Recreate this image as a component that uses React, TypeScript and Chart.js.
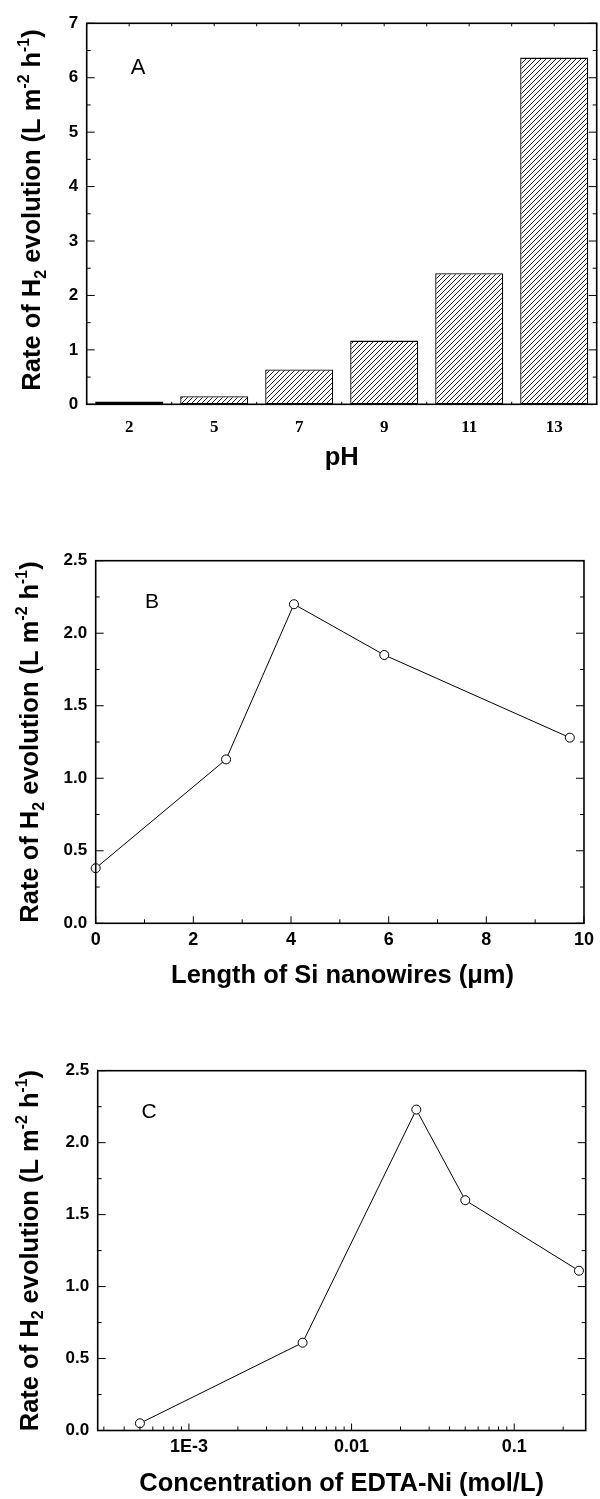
import React, { useEffect, useRef } from 'react';
import { Chart, registerables } from 'chart.js';

Chart.register(...registerables);

// ---------- data ----------
const phCategories = ['2', '5', '7', '9', '11', '13'];
const phRates = [0.05, 0.15, 0.64, 1.17, 2.41, 6.37];

const nanowireLength = [0, 2.67, 4.06, 5.91, 9.71];
const nanowireRates = [0.38, 1.13, 2.2, 1.85, 1.28];

const edtaConcentration = [0.0005, 0.005, 0.025, 0.05, 0.25];
const edtaRates = [0.05, 0.61, 2.23, 1.6, 1.11];
const edtaTickValues = [0.001, 0.01, 0.1];
const edtaTickLabels = ['1E-3', '0.01', '0.1'];

const yTitleParts = [
  { t: 'Rate of H' },
  { t: '2', sub: true },
  { t: ' evolution (L m' },
  { t: '-2', sup: true },
  { t: ' h' },
  { t: '-1', sup: true },
  { t: ')' },
];

const SANS = '"Liberation Sans", Arial, sans-serif';
const SERIF = '"Liberation Serif", "Times New Roman", serif';

type Part = { t: string; sub?: boolean; sup?: boolean };

function drawRich(ctx: CanvasRenderingContext2D, parts: Part[], size: number, cx: number, cy: number, rotate: boolean, weight = 'bold') {
  ctx.save();
  ctx.translate(cx, cy);
  if (rotate) ctx.rotate(-Math.PI / 2);
  const small = size * 0.62;
  const font = (s: number) => `${weight} ${s}px ${SANS}`;
  let total = 0;
  for (const p of parts) {
    ctx.font = font(p.sub || p.sup ? small : size);
    total += ctx.measureText(p.t).width;
  }
  let x = -total / 2;
  ctx.textBaseline = 'alphabetic';
  ctx.textAlign = 'left';
  ctx.fillStyle = '#000';
  for (const p of parts) {
    const s = p.sub || p.sup ? small : size;
    ctx.font = font(s);
    const dy = p.sub ? size * 0.22 : p.sup ? -size * 0.42 : 0;
    ctx.fillText(p.t, x, dy);
    x += ctx.measureText(p.t).width;
  }
  ctx.restore();
}

type TickMark = { v: number; len: number };

const framePlugin = {
  id: 'frame',
  afterDatasetsDraw(chart: any, _args: any, opts: any) {
    const { ctx, chartArea: a, scales } = chart;
    const xs = scales.x;
    const ys = scales.y;
    ctx.save();
    ctx.strokeStyle = '#000';
    ctx.lineWidth = 1;
    ctx.beginPath();
    const xt: TickMark[] = opts.xTicks || [];
    const xtTop: TickMark[] = opts.xTicksTop || [];
    const yt: TickMark[] = opts.yTicks || [];
    const ySides: string[] = opts.ySides || [];
    for (const t of xt) {
      const px = xs.getPixelForValue(t.v);
      if (px < a.left - 0.5 || px > a.right + 0.5) continue;
      ctx.moveTo(px, a.bottom);
      ctx.lineTo(px, a.bottom - t.len);
    }
    for (const t of xtTop) {
      const px = xs.getPixelForValue(t.v);
      if (px < a.left - 0.5 || px > a.right + 0.5) continue;
      ctx.moveTo(px, a.top);
      ctx.lineTo(px, a.top + t.len);
    }
    for (const t of yt) {
      const py = ys.getPixelForValue(t.v);
      if (py < a.top - 0.5 || py > a.bottom + 0.5) continue;
      if (ySides.includes('left')) { ctx.moveTo(a.left, py); ctx.lineTo(a.left + t.len, py); }
      if (ySides.includes('right')) { ctx.moveTo(a.right, py); ctx.lineTo(a.right - t.len, py); }
    }
    ctx.stroke();
    ctx.lineWidth = 1.6;
    ctx.strokeRect(a.left, a.top, a.right - a.left, a.bottom - a.top);
    ctx.restore();

    // texts
    drawRich(ctx, yTitleParts, opts.titleSize, opts.yTitleX, opts.yTitleY, true);
    drawRich(ctx, [{ t: opts.xTitle }], opts.titleSize, opts.xTitleX, opts.xTitleY, false);
    ctx.save();
    ctx.font = `normal ${opts.letterSize}px ${SANS}`;
    ctx.fillStyle = '#000';
    ctx.textAlign = 'center';
    ctx.textBaseline = 'alphabetic';
    ctx.fillText(opts.letter, opts.letterX, opts.letterY);
    ctx.restore();
  },
};

function hatchPattern(): CanvasPattern | string {
  const c = document.createElement('canvas');
  c.width = 5;
  c.height = 5;
  const g = c.getContext('2d');
  if (!g) return '#fff';
  g.fillStyle = '#fff';
  g.fillRect(0, 0, 5, 5);
  g.strokeStyle = '#222';
  g.lineWidth = 1;
  g.beginPath();
  g.moveTo(-1, 6);
  g.lineTo(6, -1);
  g.moveTo(-1, 1);
  g.lineTo(1, -1);
  g.moveTo(4, 6);
  g.lineTo(6, 4);
  g.stroke();
  return g.createPattern(c, 'repeat') || '#fff';
}

function linearTicks(min: number, max: number, major: number, minor: number, majorLen: number, minorLen: number): TickMark[] {
  const out: TickMark[] = [];
  const n = Math.round((max - min) / minor);
  for (let i = 0; i <= n; i++) {
    const v = min + i * minor;
    const isMajor = Math.abs(v / major - Math.round(v / major)) < 1e-6;
    out.push({ v, len: isMajor ? majorLen : minorLen });
  }
  return out;
}

function logTicks(min: number, max: number, majorLen: number, minorLen: number): TickMark[] {
  const out: TickMark[] = [];
  for (let e = Math.floor(Math.log10(min)); e <= Math.ceil(Math.log10(max)); e++) {
    for (let m = 1; m <= 9; m++) {
      const v = m * Math.pow(10, e);
      if (v >= min * 0.999 && v <= max * 1.001) out.push({ v, len: m === 1 ? majorLen : minorLen });
    }
  }
  return out;
}

const yTickFont = { family: SANS, size: 17, weight: 'bold' as const };
const xTickFont = { family: SANS, size: 18, weight: 'bold' as const };

const hideAxis = { grid: { display: false, drawTicks: false }, border: { display: false } };

function fixWidth(w: number) {
  return (s: any) => { s.width = w; };
}
function fixHeight(h: number) {
  return (s: any) => { s.height = h; };
}

function configA(): any {
  return {
    type: 'bar',
    data: {
      labels: phCategories,
      datasets: [
        {
          data: phRates,
          backgroundColor: hatchPattern(),
          borderColor: '#000',
          borderWidth: 1.3,
          borderSkipped: false,
          barPercentage: 0.8,
          categoryPercentage: 1,
        },
      ],
    },
    options: {
      responsive: false,
      animation: false,
      devicePixelRatio: 1,
      layout: { padding: { left: 0, top: 23.3, right: 3.3, bottom: 0 } },
      scales: {
        x: {
          ...hideAxis,
          offset: true,
          ticks: { font: { family: SERIF, size: 17, weight: 'bold' }, color: '#000', padding: 13, maxRotation: 0 },
          afterFit: fixHeight(85.7),
        },
        y: {
          ...hideAxis,
          min: 0,
          max: 7,
          ticks: { stepSize: 1, font: yTickFont, color: '#000', padding: 8.5 },
          afterFit: fixWidth(86.7),
        },
      },
      plugins: {
        legend: { display: false },
        tooltip: { enabled: false },
        frame: {
          xTicks: linearTicks(-0.5, 5.5, 1, 1, 2.5, 2.5),
          xTicksTop: linearTicks(-0.5, 5.5, 0.5, 0.5, 3, 3),
          yTicks: linearTicks(0, 7, 1, 0.5, 8, 4),
          ySides: ['left', 'right'],
          titleSize: 25.5,
          yTitleX: 40,
          yTitleY: 210,
          xTitle: 'pH',
          xTitleX: 341.7,
          xTitleY: 465,
          letter: 'A',
          letterSize: 22,
          letterX: 138,
          letterY: 74,
        },
      },
    },
    plugins: [framePlugin],
  };
}

const lineStyle = {
  borderColor: '#000',
  borderWidth: 1,
  pointRadius: 4.5,
  pointBackgroundColor: '#fff',
  pointBorderColor: '#000',
  pointBorderWidth: 1,
  fill: false,
  tension: 0,
  clip: false,
};

function configB(): any {
  return {
    type: 'line',
    data: {
      datasets: [
        {
          ...lineStyle,
          data: nanowireLength.map((x, i) => ({ x, y: nanowireRates[i] })),
        },
      ],
    },
    options: {
      responsive: false,
      animation: false,
      devicePixelRatio: 1,
      layout: { padding: { left: 0, top: 70.7, right: 10.7, bottom: 0 } },
      scales: {
        x: {
          ...hideAxis,
          type: 'linear',
          min: 0,
          max: 10,
          ticks: { stepSize: 2, font: xTickFont, color: '#000', padding: 6, maxRotation: 0 },
          afterFit: fixHeight(76.7),
        },
        y: {
          ...hideAxis,
          min: 0,
          max: 2.5,
          ticks: { stepSize: 0.5, font: yTickFont, color: '#000', padding: 8.5, callback: (v: any) => Number(v).toFixed(1) },
          afterFit: fixWidth(95.7),
        },
      },
      plugins: {
        legend: { display: false },
        tooltip: { enabled: false },
        frame: {
          xTicks: linearTicks(0, 10, 2, 1, 7, 4),
          yTicks: linearTicks(0, 2.5, 0.5, 0.25, 8, 4),
          ySides: ['left', 'right'],
          titleSize: 25.5,
          yTitleX: 38,
          yTitleY: 252,
          xTitle: 'Length of Si nanowires (\u03BCm)',
          xTitleX: 342.5,
          xTitleY: 493.4,
          letter: 'B',
          letterSize: 21,
          letterX: 152,
          letterY: 118,
        },
      },
    },
    plugins: [framePlugin],
  };
}

function configC(): any {
  const xmin = 0.000275;
  const xmax = 0.275;
  return {
    type: 'line',
    data: {
      datasets: [
        {
          ...lineStyle,
          data: edtaConcentration.map((x, i) => ({ x, y: edtaRates[i] })),
        },
      ],
    },
    options: {
      responsive: false,
      animation: false,
      devicePixelRatio: 1,
      layout: { padding: { left: 0, top: 70.7, right: 14.3, bottom: 0 } },
      scales: {
        x: {
          ...hideAxis,
          type: 'logarithmic',
          min: xmin,
          max: xmax,
          afterBuildTicks: (s: any) => { s.ticks = edtaTickValues.map((v) => ({ value: v })); },
          ticks: {
            font: xTickFont,
            color: '#000',
            padding: 6,
            maxRotation: 0,
            autoSkip: false,
            callback: (_v: any, i: number) => edtaTickLabels[i],
          },
          afterFit: fixHeight(68.5),
        },
        y: {
          ...hideAxis,
          min: 0,
          max: 2.5,
          ticks: { stepSize: 0.5, font: yTickFont, color: '#000', padding: 8.5, callback: (v: any) => Number(v).toFixed(1) },
          afterFit: fixWidth(97.7),
        },
      },
      plugins: {
        legend: { display: false },
        tooltip: { enabled: false },
        frame: {
          xTicks: logTicks(xmin, xmax, 7, 4),
          yTicks: linearTicks(0, 2.5, 0.5, 0.25, 8, 4),
          ySides: ['left', 'right'],
          titleSize: 25.5,
          yTitleX: 37.5,
          yTitleY: 250.6,
          xTitle: 'Concentration of EDTA-Ni (mol/L)',
          xTitleX: 341.7,
          xTitleY: 491,
          letter: 'C',
          letterSize: 21,
          letterX: 149,
          letterY: 118,
        },
      },
    },
    plugins: [framePlugin],
  };
}

function Panel({ top, height, build }: { top: number; height: number; build: () => any }) {
  const ref = useRef<HTMLCanvasElement>(null);
  useEffect(() => {
    if (!ref.current) return;
    const chart = new Chart(ref.current, build());
    return () => chart.destroy();
  }, [build]);
  return (
    <canvas
      ref={ref}
      width={600}
      height={height}
      style={{ position: 'absolute', left: 0, top, width: 600, height, display: 'block' }}
    />
  );
}

export default function App() {
  return (
    <div style={{ position: 'absolute', left: 0, top: 0, width: 600, height: 1499, background: '#fff' }}>
      <Panel top={0} height={490} build={configA} />
      <Panel top={490} height={510} build={configB} />
      <Panel top={1000} height={499} build={configC} />
    </div>
  );
}
